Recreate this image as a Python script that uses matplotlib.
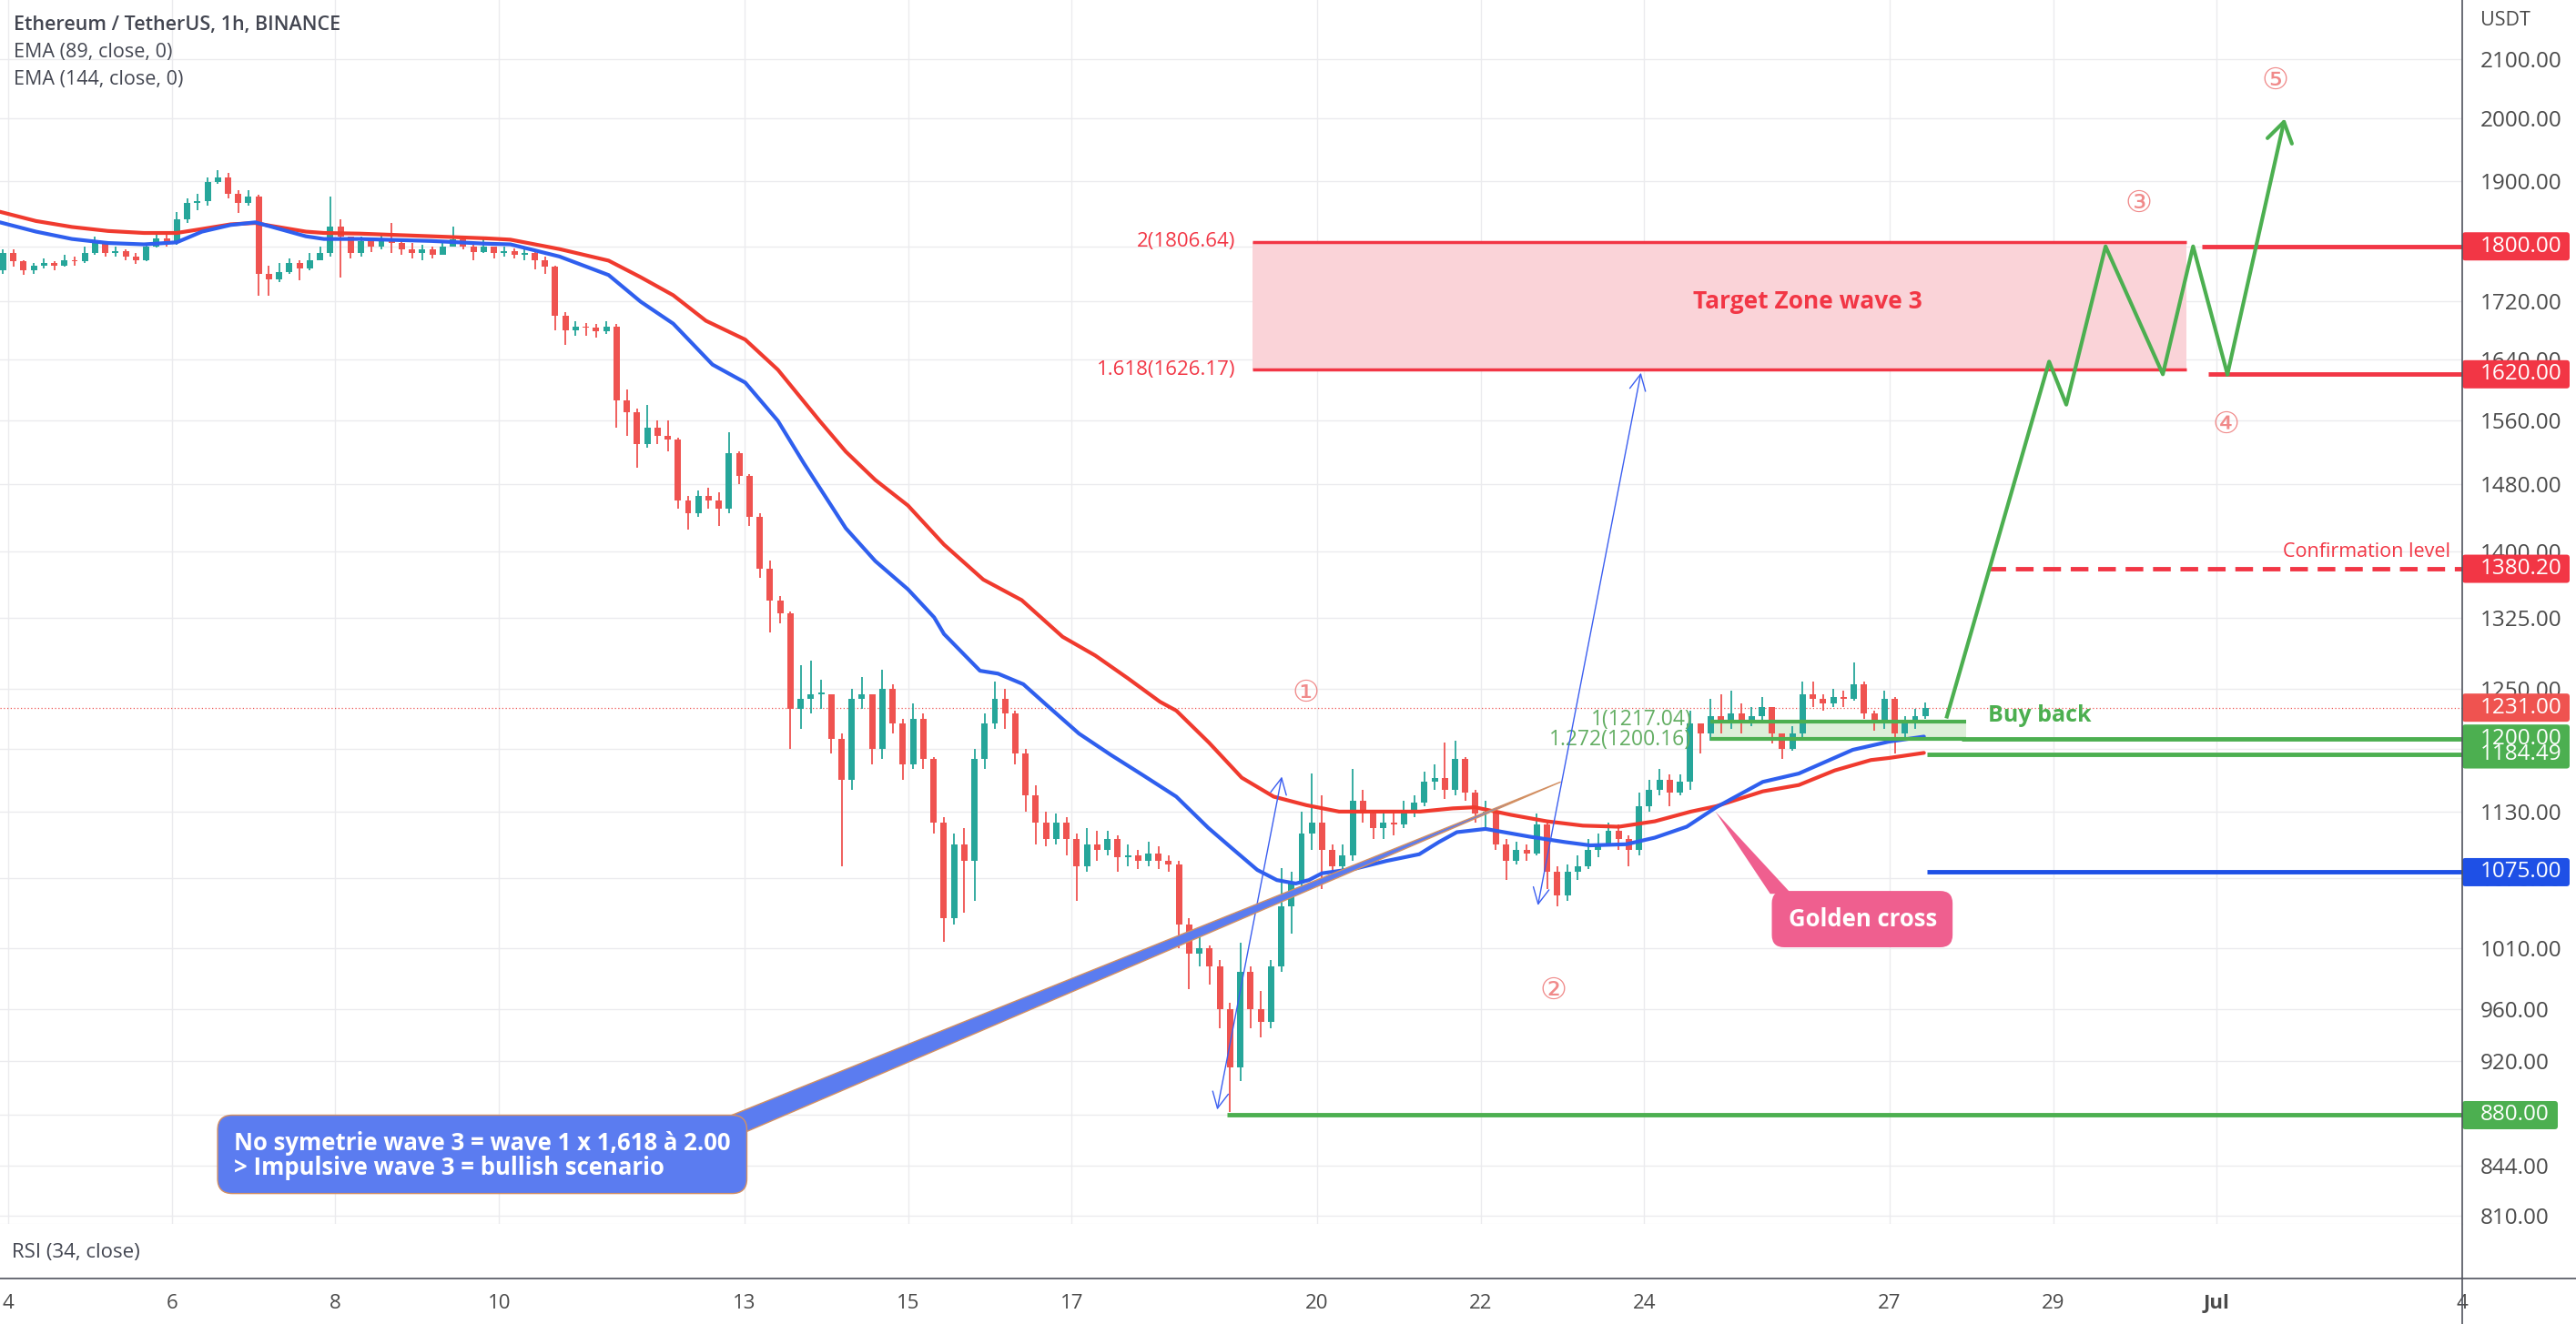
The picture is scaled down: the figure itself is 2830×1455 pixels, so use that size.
import matplotlib
matplotlib.use("Agg")
import matplotlib.pyplot as plt
from matplotlib.patches import FancyBboxPatch, Polygon, Rectangle
from matplotlib.lines import Line2D
from matplotlib.ticker import FuncFormatter, NullLocator

plt.rcParams["font.family"] = ["Open Sans", "DejaVu Sans"]

W, H = 2830, 1455

# ---------------- data (x = day of June, Jul 1 = 31) ----------------
candle_start = 3.875   # first 3h candle starts Jun 3 21:00
candle_step = 0.125    # 3 hours
first_open = 1765

closes = [
    1790,
    1778, 1765, 1772, 1775, 1772, 1780, 1778, 1790,   # Jun 4
    1808, 1790, 1793, 1785, 1780, 1800, 1812, 1805,   # Jun 5
    1840, 1865, 1868, 1898, 1905, 1880, 1865, 1875,   # Jun 6
    1760, 1752, 1762, 1775, 1768, 1780, 1790, 1830,   # Jun 7
    1815, 1790, 1808, 1800, 1810, 1805, 1795, 1790,   # Jun 8
    1795, 1788, 1800, 1810, 1800, 1792, 1800, 1790,   # Jun 9
    1793, 1788, 1790, 1780, 1770, 1700, 1680, 1685,   # Jun 10
    1683, 1678, 1685, 1585, 1570, 1530, 1550, 1540,   # Jun 11
    1535, 1460, 1445, 1465, 1460, 1450, 1518, 1490,   # Jun 12
    1440, 1380, 1345, 1330, 1230, 1240, 1245, 1245,   # Jun 13
    1200, 1160, 1240, 1245, 1190, 1250, 1215, 1175,   # Jun 14
    1220, 1180, 1120, 1035, 1100, 1085, 1180, 1215,   # Jun 15
    1240, 1225, 1185, 1145, 1120, 1105, 1120, 1105,   # Jun 16
    1080, 1100, 1095, 1105, 1088, 1090, 1085, 1092,   # Jun 17
    1085, 1082, 1030, 1005, 1010, 995, 960, 915,      # Jun 18
    990, 960, 950, 995, 1045, 1065, 1110, 1120,       # Jun 19
    1095, 1080, 1090, 1140, 1128, 1115, 1120, 1118,   # Jun 20
    1132, 1138, 1158, 1162, 1150, 1180, 1148, 1128,   # Jun 21
    1130, 1100, 1085, 1095, 1092, 1118, 1075, 1055,   # Jun 22
    1075, 1080, 1095, 1100, 1112, 1105, 1095, 1135,   # Jun 23
    1150, 1160, 1148, 1158, 1215, 1205, 1222, 1218,   # Jun 24
    1225, 1215, 1222, 1232, 1205, 1190, 1205, 1245,   # Jun 25
    1240, 1235, 1242, 1240, 1255, 1225, 1215, 1240,   # Jun 26
    1205, 1215, 1222, 1231,                           # Jun 27
]
highs = [
    1795,
    1795, 1780, 1776, 1782, 1778, 1788, 1785, 1800,
    1815, 1808, 1800, 1796, 1790, 1805, 1822, 1818,
    1852, 1872, 1880, 1905, 1917, 1912, 1885, 1885,
    1878, 1772, 1775, 1782, 1780, 1790, 1800, 1875,
    1840, 1815, 1815, 1812, 1820, 1835, 1810, 1805,
    1802, 1800, 1808, 1830, 1815, 1805, 1812, 1800,
    1800, 1797, 1795, 1792, 1785, 1772, 1705, 1692,
    1690, 1688, 1692, 1688, 1600, 1575, 1580, 1560,
    1560, 1538, 1465, 1472, 1475, 1470, 1545, 1520,
    1492, 1445, 1390, 1350, 1332, 1275, 1280, 1260,
    1245, 1205, 1250, 1262, 1245, 1270, 1255, 1220,
    1235, 1225, 1182, 1125, 1110, 1115, 1190, 1225,
    1258, 1250, 1228, 1190, 1155, 1130, 1128, 1125,
    1110, 1115, 1112, 1112, 1108, 1100, 1095, 1102,
    1098, 1090, 1085, 1035, 1025, 1012, 1000, 965,
    1014, 995, 975, 1000, 1079, 1075, 1130, 1166,
    1145, 1100, 1100, 1170, 1150, 1130, 1130, 1128,
    1140, 1145, 1168, 1175, 1196, 1198, 1182, 1150,
    1140, 1132, 1105, 1102, 1100, 1128, 1120, 1080,
    1082, 1090, 1105, 1110, 1120, 1118, 1108, 1148,
    1160, 1170, 1165, 1165, 1228, 1215, 1240, 1245,
    1248, 1235, 1232, 1242, 1232, 1205, 1212, 1258,
    1258, 1245, 1250, 1248, 1278, 1258, 1228, 1248,
    1242, 1222, 1230, 1236,
]
lows = [
    1760,
    1770, 1758, 1760, 1768, 1765, 1770, 1772, 1775,
    1788, 1785, 1785, 1780, 1774, 1778, 1798, 1800,
    1802, 1835, 1855, 1862, 1895, 1872, 1850, 1862,
    1728, 1728, 1748, 1760, 1750, 1765, 1780, 1785,
    1755, 1782, 1785, 1792, 1795, 1790, 1788, 1782,
    1780, 1782, 1790, 1800, 1795, 1780, 1790, 1782,
    1785, 1782, 1780, 1766, 1760, 1680, 1660, 1672,
    1672, 1670, 1675, 1550, 1540, 1500, 1525, 1530,
    1520, 1450, 1425, 1440, 1450, 1430, 1445, 1480,
    1430, 1370, 1310, 1320, 1190, 1210, 1225, 1230,
    1185, 1080, 1150, 1230, 1175, 1180, 1205, 1160,
    1170, 1170, 1110, 1015, 1030, 1040, 1050, 1170,
    1210, 1210, 1175, 1130, 1100, 1098, 1100, 1090,
    1050, 1075, 1085, 1090, 1075, 1080, 1078, 1080,
    1078, 1075, 1010, 976, 995, 980, 945, 882,
    905, 945, 938, 945, 990, 1022, 1060, 1095,
    1060, 1072, 1075, 1085, 1120, 1105, 1105, 1108,
    1115, 1125, 1135, 1150, 1142, 1145, 1140, 1120,
    1115, 1095, 1068, 1082, 1085, 1090, 1060, 1045,
    1050, 1068, 1078, 1088, 1098, 1095, 1080, 1090,
    1130, 1145, 1135, 1145, 1150, 1185, 1198, 1205,
    1210, 1205, 1212, 1218, 1195, 1180, 1188, 1200,
    1232, 1228, 1232, 1232, 1238, 1220, 1208, 1210,
    1185, 1200, 1210, 1220,
]

# EMA lines
ema89_day = [3.9, 4.34, 4.78, 5.22, 5.66, 6.06, 6.37, 6.72, 7.02, 7.2, 7.64, 7.86, 8.3,
             9.18, 9.84, 10.14, 10.74, 11.34, 11.73, 12.13, 12.61, 13.01, 13.41, 13.73,
             14.12, 14.24, 14.6, 15.0, 15.32, 15.44, 15.88, 16.1, 16.41, 16.69, 17.09,
             17.48, 17.88, 18.28, 18.67, 18.95, 19.27, 19.51, 19.74, 19.9, 20.06, 20.46,
             20.85, 21.25, 21.49, 21.71, 22.06, 22.59, 23.03, 23.34, 23.78, 24.13, 24.52,
             24.88, 25.45, 25.89, 26.55, 26.99, 27.42]
ema89 = [1836, 1822, 1811, 1805, 1803, 1806, 1822, 1832, 1836, 1830, 1815, 1811, 1811,
         1808, 1804, 1803, 1785, 1758, 1720, 1689, 1633, 1609, 1559, 1505,
         1445, 1427, 1389, 1357, 1326, 1308, 1269, 1266, 1255, 1234, 1205,
         1184, 1164, 1144, 1115, 1097, 1077, 1068, 1065, 1068, 1074, 1078,
         1085, 1091, 1102, 1111, 1114, 1107, 1102, 1099, 1100, 1106, 1116,
         1134, 1158, 1166, 1189, 1197, 1202]
ema144_day = [3.9, 4.34, 4.78, 5.22, 5.66, 6.06, 6.37, 6.72, 7.02, 7.2, 7.64, 7.86, 8.3,
              9.18, 9.84, 10.14, 10.74, 11.34, 11.73, 12.13, 12.53, 13.01, 13.41, 13.92,
              14.24, 14.6, 15.0, 15.44, 15.92, 16.39, 16.89, 17.29, 17.69, 18.08, 18.28,
              18.68, 19.08, 19.47, 19.87, 20.27, 20.87, 21.26, 21.66, 21.93, 22.37, 22.81,
              23.25, 23.69, 24.13, 24.57, 24.88, 25.45, 25.89, 26.33, 26.77, 26.99, 27.42]
ema144 = [1852, 1838, 1829, 1823, 1820, 1820, 1826, 1833, 1835, 1831, 1822, 1820, 1819,
          1815, 1812, 1810, 1796, 1779, 1755, 1729, 1693, 1667, 1626, 1559,
          1520, 1485, 1454, 1408, 1368, 1345, 1305, 1285, 1261, 1237, 1228,
          1196, 1162, 1144, 1136, 1130, 1130, 1130, 1133, 1134, 1127, 1121,
          1117, 1116, 1121, 1130, 1135, 1149, 1155, 1169, 1179, 1181, 1186]

price_ticks = [810, 844, 880, 920, 960, 1010, 1070, 1130, 1190, 1250, 1325, 1400,
               1480, 1560, 1640, 1720, 1800, 1900, 2000, 2100]
date_ticks = [4, 6, 8, 10, 13, 15, 17, 20, 22, 24, 27, 29, 31, 34]
date_labels = ["4", "6", "8", "10", "13", "15", "17", "20", "22", "24", "27", "29", "Jul", "4"]

# drawings
target_zone = (1626.17, 1806.64)
target_span = (19.21, 30.63)
buy_zone = (1200.16, 1217.04)
buy_span = (24.81, 27.93)
proj_day = [27.7, 28.95, 29.16, 29.64, 30.34, 30.71, 31.13, 31.83]
proj_price = [1222, 1637, 1580, 1800, 1620, 1800, 1620, 2000]
wave_labels = ["①", "②", "③", "④", "⑤"]
wave_day = [19.86, 22.89, 30.04, 31.11, 31.71]
wave_price = [1246, 975, 1865, 1555, 2064]

RED = "#f23645"
GREEN = "#4caf50"
BLUE = "#1e50e6"
UPC = "#26a69a"
DNC = "#ef5350"

fig = plt.figure(figsize=(W / 100, H / 100), dpi=100)
ax = fig.add_axes([0, 110 / H, 2705 / W, 1345 / H])
rsi = fig.add_axes([0, 50 / H, 2705 / W, 60 / H])

ax.set_yscale("log")
ax.set_xlim(3.90, 34.0)
ax.set_ylim(804.6, 2205)
ax.set_yticks(price_ticks)
ax.yaxis.set_minor_locator(NullLocator())
ax.yaxis.set_major_formatter(FuncFormatter(lambda v, p: f"{v:.2f}"))
ax.yaxis.tick_right()
ax.tick_params(axis="y", length=0, pad=14, labelsize=17.5, labelcolor="#4a4a4a")
ax.set_xticks(date_ticks)
ax.tick_params(axis="x", length=0, labelbottom=False)
ax.grid(True, color="#ebebee", lw=1, zorder=0)
ax.set_axisbelow(True)
for s in ["top", "left", "right"]:
    ax.spines[s].set_visible(False)
ax.spines["bottom"].set_color("#e0e3eb")

rsi.set_xlim(3.90, 34.0)
rsi.set_yticks([])
rsi.set_xticks(date_ticks)
rsi.set_xticklabels(date_labels)
rsi.tick_params(axis="x", length=0, pad=12, labelsize=16, labelcolor="#4a4a4a")
rsi.get_xticklabels()[12].set_fontweight("bold")
for s in rsi.spines.values():
    s.set_visible(False)
rsi.text(13 / 2705, 0.47, "RSI (34, close)", transform=rsi.transAxes, fontsize=16,
         color="#434651", va="center")

# ---------------- candles ----------------
opens = [first_open] + closes[:-1]
xs = [candle_start + candle_step * (i + 0.5) for i in range(len(closes))]
cols = [UPC if c >= o else DNC for o, c in zip(opens, closes)]
ax.vlines(xs, lows, highs, colors=cols, lw=1.3, zorder=3)
ax.bar(xs, [max(abs(c - o), 1.5) for o, c in zip(opens, closes)], width=candle_step * 0.62,
       bottom=[min(o, c) for o, c in zip(opens, closes)], color=cols, lw=0, zorder=3)

# EMAs
ax.plot(ema144_day, ema144, color="#f03a2e", lw=3, zorder=4, solid_capstyle="round")
ax.plot(ema89_day, ema89, color="#2f5fee", lw=3, zorder=4, solid_capstyle="round")

# current price dotted line
ax.axhline(1231, color=DNC, ls=(0, (1, 2)), lw=0.9, zorder=2)

# ---------------- target zone ----------------
ax.add_patch(Rectangle((target_span[0], target_zone[0]), target_span[1] - target_span[0],
                       target_zone[1] - target_zone[0], fc="#fad3d8", ec="none", zorder=1))
ax.hlines(target_zone, *target_span, color=RED, lw=2.5, zorder=4)
ax.text(19.0, target_zone[1], "2(1806.64)", ha="right", va="center", color=RED, fontsize=16)
ax.text(19.0, target_zone[0], "1.618(1626.17)", ha="right", va="center", color=RED, fontsize=16)
ax.text(26.0, 1720, "Target Zone wave 3", ha="center", va="center", color=RED,
        fontsize=19, fontweight="bold")

# right side levels
ax.hlines(1800, 30.82, 34.0, color=RED, lw=3.5, zorder=4)
ax.hlines(1620, 30.9, 34.0, color=RED, lw=3.5, zorder=4)
ax.hlines(1380.2, 28.2, 34.0, color=RED, lw=3.5, ls=(0, (4, 2.2)), zorder=4)
ax.text(33.85, 1400, "Confirmation level", ha="right", va="center", color=RED, fontsize=15.5)

# buy back zone
ax.add_patch(Rectangle((buy_span[0], buy_zone[0]), buy_span[1] - buy_span[0],
                       buy_zone[1] - buy_zone[0], fc="#dcefd8", ec="none", zorder=2))
ax.hlines(buy_zone, *buy_span, color=GREEN, lw=3, zorder=4)
ax.text(24.58, 1219, "1(1217.04)", ha="right", va="center", color="#62ad62", fontsize=16.5)
ax.text(24.58, 1199, "1.272(1200.16)", ha="right", va="center", color="#62ad62", fontsize=16.5)
ax.text(28.2, 1223, "Buy back", ha="left", va="center", color=GREEN, fontsize=18,
        fontweight="bold")
ax.hlines(1200, 27.88, 34.0, color=GREEN, lw=3.5, zorder=4)
ax.hlines(1184.49, 27.46, 34.0, color=GREEN, lw=3.5, zorder=4)
ax.hlines(880, 18.9, 34.0, color=GREEN, lw=3.5, zorder=4)
ax.hlines(1075, 27.46, 34.0, color=BLUE, lw=3.5, zorder=4)

# projection path
ax.plot(proj_day[:-1], proj_price[:-1], color=GREEN, lw=3, zorder=5)
ax.annotate("", xy=(proj_day[-1], proj_price[-1]), xytext=(proj_day[-2], proj_price[-2]),
            arrowprops=dict(arrowstyle="->,head_length=0.7,head_width=0.45", color=GREEN,
                            lw=3, shrinkA=0, shrinkB=0, mutation_scale=22), zorder=5)

# measuring arrows
for a, b in [((18.78, 884), (19.57, 1163)), ((22.70, 1046), (23.96, 1622))]:
    ax.annotate("", xy=b, xytext=a,
                arrowprops=dict(arrowstyle="<->,head_length=0.7,head_width=0.35",
                                color="#3b5ef0", lw=1, shrinkA=0, shrinkB=0,
                                mutation_scale=18), zorder=5)

for lab, d, p in zip(wave_labels, wave_day, wave_price):
    ax.text(d, p, lab, ha="center", va="center", color="#f08a8a", fontsize=24,
            family=["DejaVu Sans"], zorder=6)


def to_axes(day, price):
    return ax.transAxes.inverted().transform(ax.transData.transform((day, price)))


asp = 2705 / 1345

# blue callout
ax.add_patch(Polygon([(12.72, 877), (13.02, 868), (22.98, 1158)], closed=True,
                     fc="#5b7cf0", ec="#d39062", lw=1, zorder=6))
p0, p1 = to_axes(6.56, 825), to_axes(13.03, 880)
ax.add_patch(FancyBboxPatch(p0, p1[0] - p0[0], p1[1] - p0[1],
                            boxstyle="round,pad=0,rounding_size=0.006", mutation_aspect=asp,
                            transform=ax.transAxes, fc="#5b7cf0", ec="#d39062", lw=1, zorder=7))
ax.text(6.76, 851, "No symetrie wave 3 = wave 1 x 1,618 à 2.00\n> Impulsive wave 3 = bullish scenario",
        ha="left", va="center", color="white", fontsize=18.5, fontweight="bold",
        linespacing=1.0, zorder=8)

# golden cross callout
ax.add_patch(Polygon([(25.54, 1056), (25.80, 1056), (24.87, 1130)], closed=True,
                     fc="#ef5f8f", ec="none", zorder=6))
p0, p1 = to_axes(25.56, 1010.5), to_axes(27.77, 1058.5)
ax.add_patch(FancyBboxPatch(p0, p1[0] - p0[0], p1[1] - p0[1],
                            boxstyle="round,pad=0,rounding_size=0.005", mutation_aspect=asp,
                            transform=ax.transAxes, fc="#ef5f8f", ec="none", zorder=7))
ax.text(26.67, 1034, "Golden cross", ha="center", va="center", color="white", fontsize=18.5,
        fontweight="bold", zorder=8)

# ---------------- chrome ----------------
fig.text(15 / W, 1 - 28 / H, "Ethereum / TetherUS, 1h, BINANCE", fontsize=15.5,
         fontweight="semibold", color="#434651", va="center")
fig.text(15 / W, 1 - 58 / H, "EMA (89, close, 0)", fontsize=15.5, color="#434651", va="center")
fig.text(15 / W, 1 - 88 / H, "EMA (144, close, 0)", fontsize=15.5, color="#434651", va="center")
fig.text(2725 / W, 1 - 23 / H, "USDT", fontsize=15.5, color="#4a4a4a", va="center")

fig.add_artist(Line2D([2705 / W, 2705 / W], [0, 1], color="#50535e", lw=1.2))
fig.add_artist(Line2D([0, 1], [50 / H, 50 / H], color="#50535e", lw=1.2))

# price scale labels
axis_marks = [(1800, "1800.00", RED), (1620, "1620.00", RED), (1380.2, "1380.20", RED),
              (1231, "1231.00", DNC), (1200, "1200.00", GREEN), (1184.49, "1184.49", GREEN),
              (1075, "1075.00", BLUE), (880, "880.00", GREEN)]
inv = fig.transFigure.inverted()
for price, lab, col in axis_marks:
    yc = inv.transform(ax.transData.transform((10, price)))[1]
    w = 105 if len(lab) < 7 else 118
    fig.add_artist(FancyBboxPatch((2705 / W, yc - 15.5 / H), w / W, 31 / H,
                                  boxstyle="round,pad=0,rounding_size=0.0012",
                                  mutation_aspect=W / H, transform=fig.transFigure,
                                  fc=col, ec="none"))
    fig.text(2725 / W, yc, lab, color="white", fontsize=17.5, va="center", ha="left")

fig.savefig("out.png", dpi=100)
